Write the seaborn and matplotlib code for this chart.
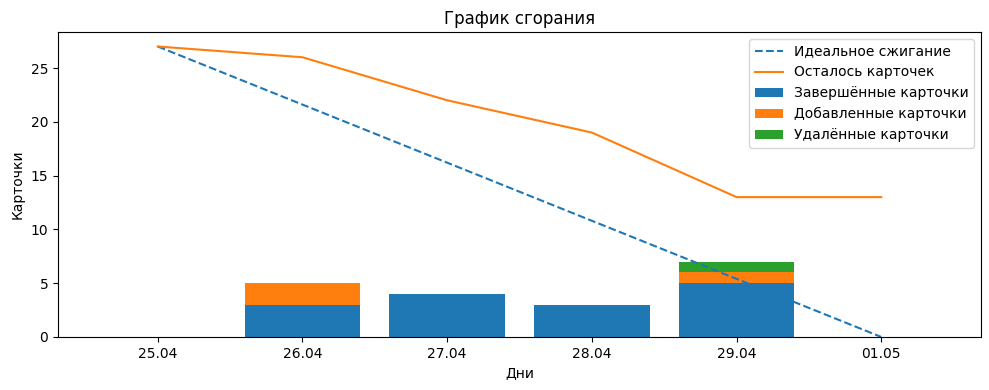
import matplotlib
matplotlib.use("Agg")
import matplotlib.pyplot as plt
import numpy as np
import seaborn as sns

# данные графика сгорания
days = ['25.04', '26.04', '27.04', '28.04', '29.04', '01.05']
ideal = [27, 21.6, 16.2, 10.8, 5.4, 0]
remaining = [27, 26, 22, 19, 13, 13]
completed = [0, 3, 4, 3, 5, 0]
added = [0, 2, 0, 0, 1, 0]
removed = [0, 0, 0, 0, 1, 0]

pos = np.arange(len(days))
bottom_removed = np.array(completed) + np.array(added)

fig, ax = plt.subplots(figsize=(9.89, 3.9), dpi=100)

sns.lineplot(x=pos, y=ideal, ax=ax, color='C0', linestyle='--', sort=False,
             label='Идеальное сжигание')
sns.lineplot(x=pos, y=remaining, ax=ax, color='C1', sort=False,
             label='Осталось карточек')

sns.barplot(x=days, y=completed, ax=ax, color='C0', saturation=1, width=0.8,
            label='Завершённые карточки', zorder=1)
sns.barplot(x=days, y=added, bottom=completed, ax=ax, color='C1', saturation=1,
            width=0.8, label='Добавленные карточки', zorder=1)
sns.barplot(x=days, y=removed, bottom=bottom_removed, ax=ax, color='C2',
            saturation=1, width=0.8, label='Удалённые карточки', zorder=1)

ax.set_xlim(-0.69, len(days) - 1 + 0.69)
ax.set_ylim(0, 28.35)
ax.set_xticks(pos)
ax.set_xticklabels(days)
ax.set_title('График сгорания')
ax.set_xlabel('Дни')
ax.set_ylabel('Карточки')
ax.legend(loc='upper right')

# поля подогнаны под оригинал
fig.subplots_adjust(left=0.0586, right=0.992, top=0.918, bottom=0.136)
fig.savefig('out.png')
